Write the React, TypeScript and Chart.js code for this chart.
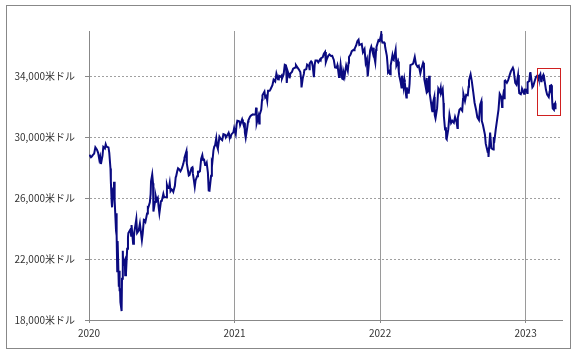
import React, { useEffect, useRef } from 'react';
import { Chart, registerables } from 'chart.js';

Chart.register(...registerables);

// Axis definitions
const yTicks = [18000, 22000, 26000, 30000, 34000];
const yMin = 18000;
const yMax = 37000;
const xTicks = [2020, 2021, 2022, 2023];
const xMin = 2020;
const xMax = 2023.25;

// Highlight box (annotation) in data terms
const boxStart = '2023-01-30';
const boxEnd = '2023-03-28';
const boxLow = 31500;
const boxHigh = 34570;

// Daily closes
const days2020 = ['01-02','01-06','01-08','01-10','01-14','01-17','01-21','01-24','01-27','01-29','01-31','02-04','02-06','02-10','02-12','02-14','02-19','02-21','02-24','02-25','02-27','02-28','03-02','03-03','03-04','03-05','03-06','03-09','03-10','03-11','03-12','03-13','03-16','03-17','03-18','03-19','03-20','03-23','03-24','03-26','03-27','03-31','04-01','04-03','04-06','04-08','04-09','04-14','04-16','04-17','04-21','04-23','04-24','04-29','05-01','05-05','05-08','05-13','05-15','05-18','05-20','05-22','05-26','05-28','05-29','06-02','06-04','06-05','06-08','06-10','06-11','06-15','06-17','06-19','06-22','06-24','06-26','06-30','07-02','07-06','07-08','07-10','07-13','07-15','07-17','07-20','07-22','07-24','07-27','07-29','07-31','08-04','08-06','08-07','08-10','08-12','08-14','08-18','08-21','08-25','08-27','08-28','09-02','09-03','09-04','09-08','09-10','09-11','09-15','09-17','09-18','09-21','09-23','09-25','09-29','10-01','10-02','10-06','10-09','10-12','10-14','10-16','10-19','10-21','10-23','10-26','10-28','10-30','11-03','11-05','11-06','11-09','11-11','11-13','11-16','11-18','11-20','11-24','11-27','12-01','12-04','12-08','12-10','12-11','12-15','12-17','12-18','12-22','12-24','12-29','12-31'];
const close2020 = [28868,28703,28745,28823,28940,29348,29196,28989,28535,28734,28256,28807,29380,29277,29551,29398,29348,28992,27961,27081,25767,25409,26703,25917,27091,26121,25864,23851,25018,23553,21200,23185,20189,21237,19899,20087,19174,18592,20704,22552,21637,21917,20943,21053,22680,23434,23719,23950,23538,24242,23019,23516,23775,24634,23724,23883,24331,23248,23685,24597,24576,24465,24995,25401,25383,25742,26281,27111,27572,26990,25128,25763,26120,25871,26025,25445,25016,25813,25827,26287,26067,26075,26086,26870,26672,26681,27005,26470,26584,26540,26428,26828,27387,27433,27791,27976,27931,27778,27930,28249,28492,28654,29100,28293,28133,27501,27535,27666,27996,28033,27657,27148,26763,27174,27453,27816,27682,27773,28586,28837,28514,28606,28195,28211,28335,27685,26520,26502,27481,28390,28323,29158,29398,29479,29950,29438,29263,30046,29910,29824,30218,30174,29999,30046,30200,30303,30179,30016,30200,30336,30606];

const days2021 = ['01-04','01-06','01-08','01-12','01-14','01-15','01-20','01-22','01-26','01-27','01-29','02-02','02-04','02-05','02-09','02-12','02-16','02-19','02-23','02-24','02-25','02-26','03-02','03-04','03-05','03-09','03-11','03-12','03-17','03-19','03-22','03-24','03-26','03-30','04-01','04-06','04-09','04-13','04-16','04-20','04-22','04-23','04-27','04-29','04-30','05-04','05-07','05-10','05-12','05-14','05-18','05-19','05-21','05-25','05-28','06-02','06-04','06-08','06-11','06-15','06-17','06-18','06-21','06-24','06-25','06-30','07-02','07-07','07-08','07-09','07-12','07-14','07-16','07-19','07-21','07-23','07-27','07-30','08-03','08-05','08-06','08-10','08-13','08-16','08-18','08-20','08-24','08-27','08-31','09-03','09-07','09-10','09-14','09-16','09-17','09-20','09-22','09-24','09-28','09-30','10-01','10-04','10-06','10-08','10-12','10-14','10-15','10-19','10-22','10-26','10-28','10-29','11-02','11-05','11-08','11-10','11-12','11-16','11-19','11-23','11-26','11-29','11-30','12-01','12-03','12-07','12-10','12-14','12-16','12-17','12-20','12-22','12-23','12-28','12-31'];
const close2021 = [30224,30829,31098,31068,30991,30814,31188,30997,30937,30303,29983,30688,31056,31148,31375,31458,31523,31494,31537,31962,31402,30932,31391,30924,31496,31832,32485,32779,33015,32628,32731,32420,33072,33067,33153,33430,33800,33677,34200,33821,33815,34043,33984,34060,33875,34133,34778,34743,33587,34382,34060,33896,34208,34312,34529,34600,34756,34600,34480,34299,33823,33290,33877,34196,34433,34503,34786,34681,34422,34870,34996,34933,34688,33962,34798,35062,35058,34935,35117,35065,35209,35265,35515,35625,34961,35120,35367,35456,35361,35369,35100,34608,34578,34751,34584,33970,34259,34798,33874,33844,34326,34002,34417,34746,34378,34912,35295,35457,35677,35757,35731,35820,36053,36328,36432,36079,36100,36143,35602,35814,34899,35136,34484,34022,34580,35720,35971,35544,35898,35365,34932,35754,35950,36398,36338];

const days2022 = ['01-04','01-05','01-07','01-11','01-13','01-14','01-18','01-20','01-21','01-24','01-26','01-27','01-28','02-01','02-03','02-04','02-09','02-10','02-11','02-15','02-17','02-18','02-22','02-24','02-25','03-01','03-03','03-04','03-07','03-08','03-09','03-11','03-14','03-16','03-18','03-22','03-25','03-29','04-01','04-05','04-08','04-12','04-14','04-19','04-21','04-22','04-26','04-28','04-29','05-02','05-04','05-05','05-06','05-09','05-11','05-12','05-13','05-17','05-18','05-20','05-24','05-27','05-31','06-02','06-03','06-07','06-09','06-10','06-13','06-15','06-16','06-17','06-21','06-24','06-28','07-01','07-05','07-08','07-12','07-14','07-15','07-19','07-22','07-26','07-28','07-29','08-02','08-05','08-09','08-11','08-12','08-16','08-19','08-23','08-26','08-30','09-02','09-06','09-09','09-12','09-13','09-16','09-21','09-23','09-27','09-29','09-30','10-04','10-07','10-12','10-13','10-14','10-18','10-21','10-25','10-28','11-01','11-03','11-04','11-08','11-09','11-10','11-11','11-15','11-18','11-22','11-25','11-30','12-02','12-06','12-09','12-13','12-15','12-16','12-20','12-22','12-23','12-28','12-30'];
const close2022 = [36799,36408,36231,36252,36113,35912,35368,34715,34265,34365,34168,34160,34725,35405,35111,35089,35768,35241,34738,34989,34312,34079,33597,33224,34059,33295,33795,33615,32818,32633,33286,32945,32945,33544,34755,34807,34861,35294,34818,34642,34721,34221,34451,34911,34793,33811,33241,33916,32977,33062,34061,32998,32899,32246,31834,31730,32196,32655,31490,31262,31929,33213,32990,33248,32900,33180,32272,31393,30517,30668,29927,29889,30530,31500,30947,31097,30968,31338,30981,30630,31289,31827,31900,31762,32529,32845,32397,32803,32774,33336,33761,34152,33706,32910,32283,31790,31318,31145,32151,32381,31105,30822,30184,29590,29135,29226,28725,30316,29297,29210,30038,29634,30523,31082,31837,32861,32653,32001,32403,33160,32514,33715,33748,33593,33746,34098,34347,34590,34430,33596,33476,34108,33202,32920,32850,33027,33203,32875,33147];

const days2023 = ['01-03','01-05','01-06','01-10','01-12','01-13','01-18','01-20','01-24','01-27','01-31','02-02','02-03','02-07','02-09','02-10','02-14','02-16','02-17','02-21','02-24','02-28','03-02','03-03','03-06','03-08','03-09','03-10','03-13','03-14','03-16','03-17'];
const close2023 = [33136,32930,33631,33704,34190,34303,33297,33375,33734,33978,34086,34054,33926,34156,33700,33869,34089,33697,33827,33130,32817,32657,33004,33391,33431,32799,32254,31910,31820,32155,32247,31862];

function toYear(d: string): number {
  const [y, m, dd] = d.split('-').map(Number);
  const start = Date.UTC(y, 0, 1);
  const end = Date.UTC(y + 1, 0, 1);
  return y + (Date.UTC(y, m - 1, dd) - start) / (end - start);
}

function buildPoints() {
  const sets: [number, string[], number[]][] = [
    [2020, days2020, close2020],
    [2021, days2021, close2021],
    [2022, days2022, close2022],
    [2023, days2023, close2023],
  ];
  const pts: { x: number; y: number }[] = [];
  for (const [yr, days, vals] of sets) {
    days.forEach((d, i) => pts.push({ x: toYear(`${yr}-${d}`), y: vals[i] }));
  }
  return pts;
}

const FONT = '"MS PGothic", "Noto Sans CJK JP", sans-serif';

const boxPlugin = {
  id: 'highlightBox',
  afterDatasetsDraw(chart: any) {
    const { ctx, scales } = chart;
    const x1 = scales.x.getPixelForValue(toYear(boxStart));
    const x2 = scales.x.getPixelForValue(toYear(boxEnd));
    const y1 = scales.y.getPixelForValue(boxHigh);
    const y2 = scales.y.getPixelForValue(boxLow);
    ctx.save();
    ctx.strokeStyle = '#d02020';
    ctx.lineWidth = 1;
    ctx.strokeRect(Math.round(x1) + 0.5, Math.round(y1) + 0.5, Math.round(x2 - x1), Math.round(y2 - y1));
    ctx.restore();
  },
};

export default function App() {
  const ref = useRef<HTMLCanvasElement>(null);
  useEffect(() => {
    if (!ref.current) return;
    const chart = new Chart(ref.current, {
      type: 'line',
      data: {
        datasets: [
          {
            data: buildPoints(),
            borderColor: '#0a0a80',
            borderWidth: 2,
            pointRadius: 0,
            tension: 0,
            fill: false,
          },
        ],
      },
      options: {
        animation: false,
        responsive: false,
        maintainAspectRatio: false,
        events: [],
        layout: { padding: { left: 0, top: 31, right: 13, bottom: 0 } },
        plugins: { legend: { display: false }, tooltip: { enabled: false } },
        scales: {
          x: {
            type: 'linear',
            min: xMin,
            max: xMax,
            afterBuildTicks: (s: any) => { s.ticks = xTicks.map((v) => ({ value: v })); },
            afterFit: (s: any) => { s.height = 34; },
            grid: {
              color: (c: any) => (c.tick && c.tick.value === 2020 ? 'rgba(0,0,0,0)' : '#9a9a9a'),
              lineWidth: 1,
              drawTicks: true,
              tickLength: 3,
              tickColor: '#888',
            },
            border: { display: true, color: '#888', width: 1 },
            ticks: {
              maxRotation: 0,
              autoSkip: false,
              padding: 4,
              color: '#333',
              font: { family: FONT, size: 10 },
              callback: (v: any) => String(v),
            },
          },
          y: {
            type: 'linear',
            min: yMin,
            max: yMax,
            afterBuildTicks: (s: any) => { s.ticks = yTicks.map((v) => ({ value: v })); },
            afterFit: (s: any) => { s.width = 89; },
            grid: {
              color: '#a0a0a0',
              lineWidth: 1,
              drawTicks: true,
              tickLength: 4,
              tickColor: '#888',
              tickBorderDash: [],
            },
            border: { display: true, color: '#888', width: 1, dash: [2, 2] },
            ticks: {
              padding: 10,
              color: '#333',
              font: { family: FONT, size: 10 },
              callback: (v: any) => Number(v).toLocaleString('en-US') + '米ドル',
            },
          },
        },
      } as any,
      plugins: [boxPlugin],
    });
    return () => chart.destroy();
  }, []);

  return (
    <div style={{ position: 'absolute', left: 0, top: 0, width: 575, height: 354, background: '#fff' }}>
      <div
        style={{
          position: 'absolute',
          left: 6,
          top: 5,
          width: 563,
          height: 342,
          border: '1px solid #888',
          boxSizing: 'content-box',
        }}
      />
      <canvas
        ref={ref}
        width={575}
        height={354}
        style={{ position: 'absolute', left: 0, top: 0, width: 575, height: 354 }}
      />
    </div>
  );
}
